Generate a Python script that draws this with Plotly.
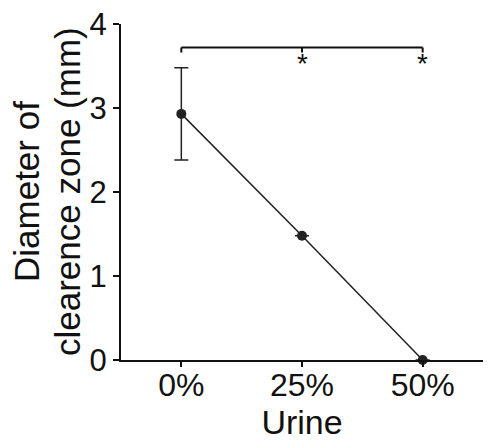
import plotly.graph_objects as go

categories = ["0%", "25%", "50%"]
values = [2.93, 1.48, 0.0]
errors = [0.55, 0.0, 0.0]
y_ticks = [0, 1, 2, 3, 4]
sig_labels = ["", "*", "*"]
bracket_y = 3.72
y_title_lines = ["Diameter of", "clearence zone (mm)"]

FONT = "Liberation Sans, Arial, Helvetica, sans-serif"
xs = list(range(len(categories)))

W, H = 491, 448
ML, MR, MT, MB = 121, 8, 24, 88
PW = W - ML - MR

fig = go.Figure()
fig.add_trace(go.Scatter(
    x=xs, y=values,
    mode="lines+markers",
    line=dict(color="#222", width=1.5),
    marker=dict(color="#222", size=10),
    error_y=dict(type="data", array=errors, visible=True, color="#222", thickness=1.5, width=7),
    showlegend=False, cliponaxis=False,
))

# significance bracket
fig.add_shape(type="line", x0=xs[0], x1=xs[-1], y0=bracket_y, y1=bracket_y,
              line=dict(color="#111", width=2))
for x in xs:
    fig.add_shape(type="line", x0=x, x1=x, y0=bracket_y, y1=bracket_y - 0.06,
                  line=dict(color="#111", width=2))
for x, s in zip(xs, sig_labels):
    if s:
        fig.add_annotation(x=x, y=bracket_y - 0.06, text=s, showarrow=False,
                           yanchor="top", font=dict(family=FONT, size=28, color="#111"), yshift=7)

# y-axis title as two rotated lines
for px, line in zip([26, 67], y_title_lines):
    fig.add_annotation(xref="paper", yref="paper", x=(px - ML) / PW, y=0.5,
                       text=line, textangle=-90, showarrow=False,
                       xanchor="center", yanchor="middle",
                       font=dict(family=FONT, size=35, color="#111"))

fig.update_layout(
    width=W, height=H,
    margin=dict(l=ML, r=MR, t=MT, b=MB),
    paper_bgcolor="white", plot_bgcolor="white",
    font=dict(family=FONT, color="#111"),
)
fig.update_xaxes(
    range=[-0.5, 2.5], tickvals=xs, ticktext=categories,
    showline=True, linecolor="#111", linewidth=2, showgrid=False, zeroline=False,
    ticks="outside", ticklen=5, tickwidth=1.5, tickcolor="#111",
    ticklabelstandoff=-9,
    tickfont=dict(size=32, family=FONT, color="#111"),
    title=dict(text="Urine", font=dict(size=34, family=FONT, color="#111"), standoff=0),
)
fig.update_yaxes(
    range=[0, 4], tickvals=y_ticks,
    showline=True, linecolor="#111", linewidth=2, showgrid=False, zeroline=False,
    ticks="outside", ticklen=6, tickwidth=1.5, tickcolor="#111",
    tickfont=dict(size=31, family=FONT, color="#111"),
)
fig.write_html("out.html")
